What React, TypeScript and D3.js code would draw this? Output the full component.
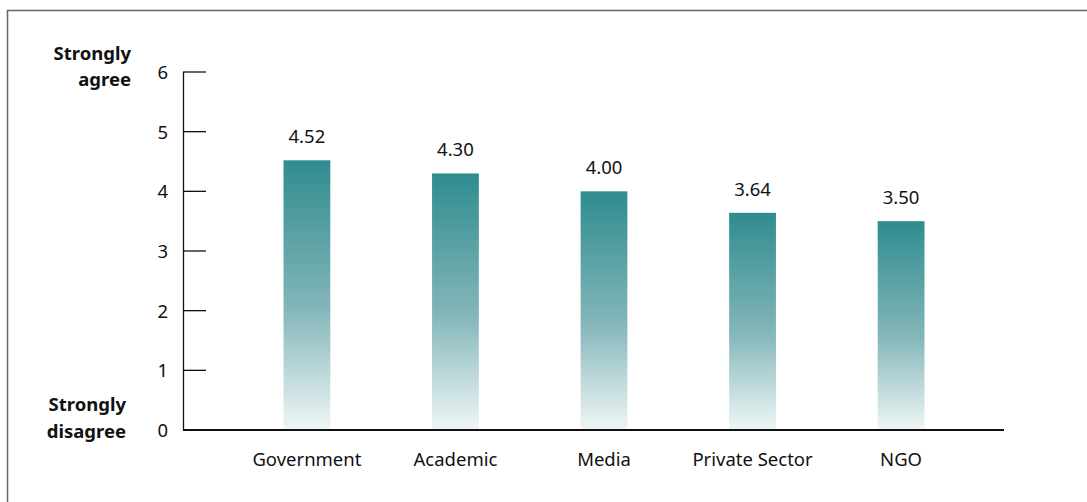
import React from "react";
import * as d3 from "d3";

const categories = ["Government", "Academic", "Media", "Private Sector", "NGO"];
const values = [4.52, 4.3, 4.0, 3.64, 3.5];
const yTicks = [0, 1, 2, 3, 4, 5, 6];
const valueLabels = ["4.52", "4.30", "4.00", "3.64", "3.50"];

export default function App() {
  const W = 1087, H = 502;
  const y = d3.scaleLinear().domain([0, 6]).range([430, 72]);
  const x = d3.scaleBand().domain(categories).range([233, 975]).paddingInner(0.685).paddingOuter(0.34);
  const font = "'Noto Sans', 'Open Sans', sans-serif";
  const fs = 18.5;
  return (
    <svg width={W} height={H} style={{ position: "absolute", left: 0, top: 0, background: "#fff" }}>
      <defs>
        <linearGradient id="bg" x1="0" y1="0" x2="0" y2="1">
          <stop offset="0%" stopColor="#2f8c8f" />
          <stop offset="55%" stopColor="#83b6b9" />
          <stop offset="100%" stopColor="#f0f6f6" />
        </linearGradient>
      </defs>
      <rect x={7.5} y={10.5} width={1200} height={600} fill="none" stroke="#666" strokeWidth={1.5} />
      {categories.map((c, i) => (
        <g key={c}>
          <rect x={x(c)} y={y(values[i])} width={x.bandwidth()} height={y(0) - y(values[i])} fill="url(#bg)" />
          <text x={(x(c) as number) + x.bandwidth() / 2} y={y(values[i]) - 17} textAnchor="middle" fontFamily={font} fontSize={fs} fill="#111">{valueLabels[i]}</text>
          <text x={(x(c) as number) + x.bandwidth() / 2} y={466} textAnchor="middle" fontFamily={font} fontSize={fs} fill="#111">{c}</text>
        </g>
      ))}
      <line x1={183.5} x2={183.5} y1={72} y2={431} stroke="#111" strokeWidth={1.3} />
      {yTicks.map((t) => (
        <g key={t}>
          <line x1={183} x2={206} y1={y(t)} y2={y(t)} stroke="#111" strokeWidth={1.3} />
          <text x={168} y={y(t) + 7} textAnchor="end" fontFamily={font} fontSize={fs} fill="#111">{t}</text>
        </g>
      ))}
      <line x1={183} x2={1004} y1={430} y2={430} stroke="#111" strokeWidth={2.2} />
      <text textAnchor="end" fontFamily={font} fontSize={fs} fontWeight="bold" fill="#111">
        <tspan x={131} y={60}>Strongly</tspan>
        <tspan x={131} y={86}>agree</tspan>
      </text>
      <text textAnchor="end" fontFamily={font} fontSize={fs} fontWeight="bold" fill="#111">
        <tspan x={126} y={411}>Strongly</tspan>
        <tspan x={126} y={438}>disagree</tspan>
      </text>
    </svg>
  );
}
